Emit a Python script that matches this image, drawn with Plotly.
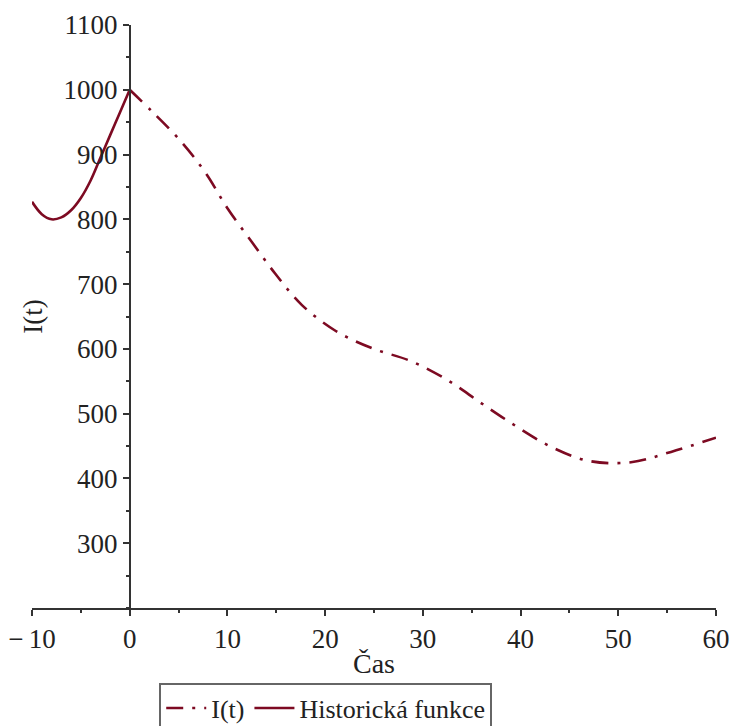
import plotly.graph_objects as go

# Data
t_model = [0, 2.25, 5.2, 7.8, 10.0, 12.5, 14.9, 17.6, 21.05, 24.8, 28.8, 32.5, 36.0, 39.5, 43.1, 47.0, 51.3, 55.4, 60]
i_model = [1000, 967, 921, 871, 817, 765, 716, 668, 628, 601, 581, 552, 516, 481, 449, 427, 425, 441, 463]

t_hist = [-10, -9, -8, -7, -6, -5, -4, -3, -2, -1, 0]
i_hist = [827, 808, 800, 803, 814, 833, 860, 895, 930, 965, 1000]

x_ticks = [-10, 0, 10, 20, 30, 40, 50, 60]
x_tick_text = ["\u2212\u200910", "0", "10", "20", "30", "40", "50", "60"]
y_ticks = [300, 400, 500, 600, 700, 800, 900, 1000, 1100]

color = "#7d0a22"
axis_color = "#333333"
font_family = "Liberation Serif, Times New Roman, serif"

fig = go.Figure()
fig.add_trace(go.Scatter(
    x=t_model, y=i_model, mode="lines", name="I(t)",
    line=dict(color=color, width=2.6, dash="17px,9px,3px,9px", shape="spline"),
))
fig.add_trace(go.Scatter(
    x=t_hist, y=i_hist, mode="lines", name="Historická funkce",
    line=dict(color=color, width=2.6, shape="spline"),
))

fig.update_layout(
    width=731, height=726,
    margin=dict(l=32, r=15, t=25, b=118, autoexpand=False),
    paper_bgcolor="white", plot_bgcolor="white",
    font=dict(family=font_family, size=26, color="#222222"),
    showlegend=True,
    legend=dict(
        orientation="h", x=0.186, xanchor="left", y=-0.128, yanchor="top",
        bordercolor="#666666", borderwidth=2,
        font=dict(family=font_family, size=26, color="#222222"),
        bgcolor="white", tracegroupgap=0, itemwidth=40,
    ),
    xaxis=dict(
        range=[-10, 60], showgrid=False, zeroline=False,
        showline=True, linecolor=axis_color, linewidth=1.5,
        tickmode="array", tickvals=x_ticks, ticktext=x_tick_text,
        ticks="outside", ticklen=6, tickcolor=axis_color, tickwidth=1.5,
        minor=dict(dtick=5, ticks="outside", ticklen=3, tickcolor=axis_color),
        tickfont=dict(family=font_family, size=27),
        title=dict(text="Čas", font=dict(family=font_family, size=28), standoff=0),
        anchor="y", automargin=False,
    ),
    yaxis=dict(
        range=[200, 1100], showgrid=False, zeroline=False,
        showline=True, linecolor=axis_color, linewidth=1.5,
        tickmode="array", tickvals=y_ticks,
        ticks="outside", ticklen=6, tickcolor=axis_color, tickwidth=1.5,
        minor=dict(dtick=50, ticks="outside", ticklen=3, tickcolor=axis_color),
        tickfont=dict(family=font_family, size=27),
        title=dict(text="I(t)", font=dict(family=font_family, size=27), standoff=12),
        anchor="free", position=10 / 70, automargin=False,
    ),
)

fig.write_html(
    "out.html",
    config={"displayModeBar": False},
    post_script="document.body.style.margin='0';document.body.style.overflow='hidden';",
)
